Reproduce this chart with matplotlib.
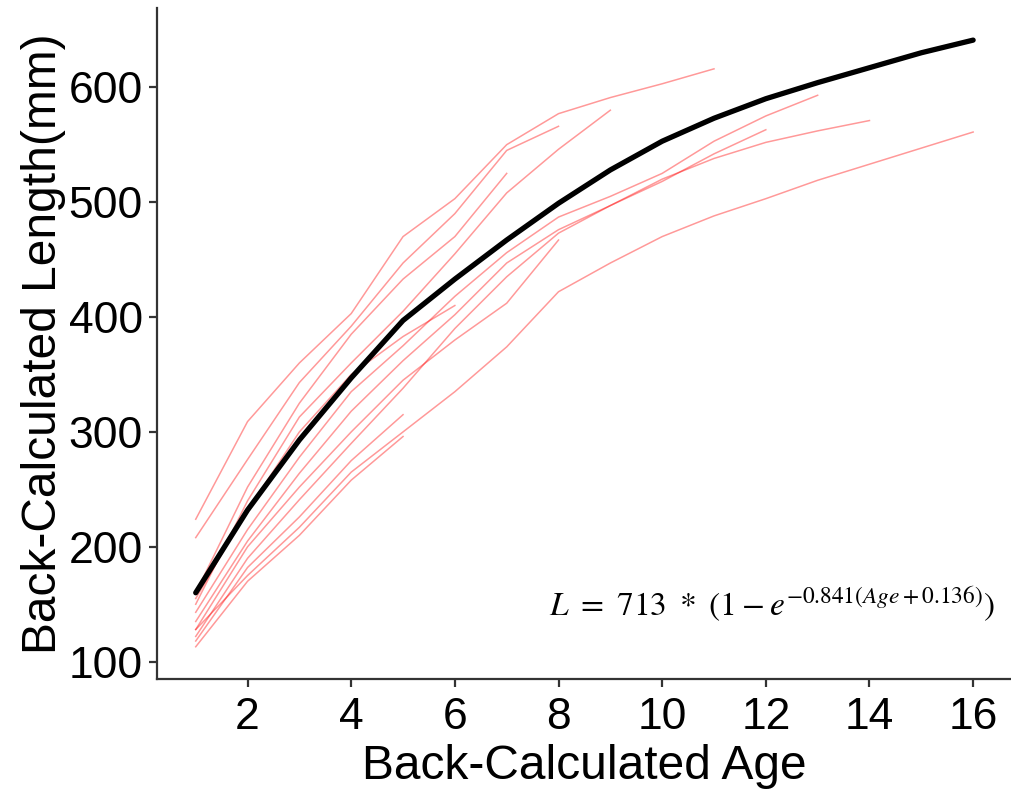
import matplotlib
import matplotlib.pyplot as plt

matplotlib.use('Agg')
plt.rcParams['font.family'] = ['Liberation Sans', 'DejaVu Sans']
plt.rcParams['mathtext.fontset'] = 'stix'

# fitted mean curve, ages 1..16
fit_age = list(range(1, 17))
fit_len = [160, 232, 293, 347, 397, 433, 467, 499, 528, 553, 573, 590, 604, 617, 630, 641]

# individual back-calculated fish, each starts at age 1
fish_lengths = {
    "A": [224, 309, 360, 403, 470, 503, 550, 577, 591, 603, 616],
    "B": [208, 276, 343, 392, 447, 490, 545, 566],
    "D": [160, 252, 325, 385, 433, 470, 525],
    "C": [150, 240, 313, 360, 405, 455, 508, 546, 580],
    "E": [155, 232, 300, 350, 383, 410],
    "L13": [143, 215, 278, 335, 375, 418, 456, 487, 505, 525, 553, 575, 593],
    "L12": [135, 205, 264, 318, 362, 402, 447, 476, 497, 518, 542, 563],
    "L8": [128, 200, 252, 300, 345, 380, 412, 467],
    "L14": [122, 190, 241, 290, 338, 390, 435, 473, 497, 520, 538, 552, 562, 571],
    "L5a": [118, 182, 226, 275, 315],
    "L16": [128, 175, 217, 265, 300, 335, 374, 422, 447, 470, 488, 503, 519, 533, 547, 561],
    "L5b": [113, 170, 210, 258, 296],
}

equation = r"$L\ =\ 713\ *\ (1 - e^{-0.841(Age+0.136)})$"

fig = plt.figure(figsize=(10.12, 7.95), dpi=100)
ax = fig.add_axes([0.155, 0.146, 0.845, 0.844])

for name, vals in fish_lengths.items():
    ages = list(range(1, len(vals) + 1))
    ax.plot(ages, vals, color='red', alpha=0.4, linewidth=1.1)

ax.plot(fit_age, fit_len, color='black', linewidth=3.8, solid_capstyle='round')

ax.set_xlim(0.25, 16.75)
ax.set_ylim(85, 669)
ax.set_xticks([2, 4, 6, 8, 10, 12, 14, 16])
ax.set_yticks([100, 200, 300, 400, 500, 600])

for s in ['top', 'right']:
    ax.spines[s].set_visible(False)
for s in ['left', 'bottom']:
    ax.spines[s].set_color('#333333')
    ax.spines[s].set_linewidth(1.6)
ax.tick_params(axis='both', colors='#333333', length=6, width=1.6,
               labelsize=32, labelcolor='black', pad=4)
ax.tick_params(axis='x', pad=7)

ax.set_xlabel("Back-Calculated Age", fontsize=34.5, labelpad=4)
ax.set_ylabel("Back-Calculated Length(mm)", fontsize=34.5, labelpad=2)

ax.text(0.98, 0.11, equation, transform=ax.transAxes, ha='right', va='center',
        fontsize=24, color='black')

fig.savefig("out.png", dpi=100)
